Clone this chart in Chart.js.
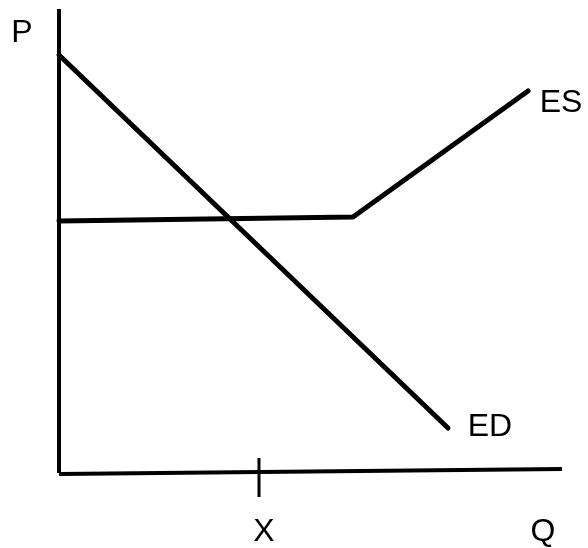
<!DOCTYPE html>
<html><head><meta charset="utf-8">
<script src="https://cdn.jsdelivr.net/npm/chart.js@4"></script>
<style>html,body{margin:0;padding:0;background:#fff}canvas{display:block}</style>
</head><body>
<canvas id="c" width="588" height="548"></canvas>
<script>
// Data (abstract quantity / price units)
const edQ = [0, 389];
const edP = [418, 45];
const esQ = [0, 294, 469];
const esP = [252, 256, 382];
const axisQ = [0, 503];
const axisQP = [-1, 4];
const axisP = [0, 464];
const tickQ = 200;
const tickSpan = [-24, 15];
const curveLabels = ['ES', 'ED'];
const curveLabelQ = [502, 431];
const curveLabelP = [370, 46];
const axisLabels = ['P', 'Q', 'X'];

const toPts = (xs, ys) => xs.map((x, i) => ({x, y: ys[i]}));

const labelPlugin = {
  id: 'labels',
  afterDatasetsDraw(chart) {
    const {ctx, scales: {x, y}} = chart;
    ctx.save();
    ctx.fillStyle = '#000';
    ctx.font = '32px "Liberation Sans", Arial, sans-serif';
    ctx.textBaseline = 'middle';
    ctx.textAlign = 'center';
    curveLabels.forEach((t, i) => {
      ctx.fillText(t, x.getPixelForValue(curveLabelQ[i]), y.getPixelForValue(curveLabelP[i]));
    });
    ctx.fillText(axisLabels[0], x.getPixelForValue(0) - 37, y.getPixelForValue(axisP[1]) + 24);
    ctx.fillText(axisLabels[1], x.getPixelForValue(484), y.getPixelForValue(0) + 59);
    ctx.fillText(axisLabels[2], x.getPixelForValue(tickQ) + 5, y.getPixelForValue(0) + 59);
    ctx.restore();
  }
};

new Chart(document.getElementById('c'), {
  type: 'scatter',
  data: {
    datasets: [
      {data: toPts([0, 0], axisP), borderWidth: 4},
      {data: toPts(axisQ, axisQP), borderWidth: 4},
      {data: toPts([tickQ, tickQ], tickSpan), borderWidth: 3},
      {data: toPts(edQ, edP), borderWidth: 5, borderCapStyle: 'round'},
      {data: toPts(esQ, esP), borderWidth: 5, borderCapStyle: 'round', borderJoinStyle: 'round'}
    ].map(d => Object.assign({showLine: true, borderColor: '#000', pointRadius: 0,
      borderCapStyle: 'butt', borderJoinStyle: 'miter', clip: false, fill: false}, d))
  },
  options: {
    responsive: false,
    animation: false,
    layout: {padding: {left: 59, top: 9, right: 26, bottom: 75}},
    plugins: {legend: {display: false}, tooltip: {enabled: false}},
    scales: {
      x: {type: 'linear', display: false, min: 0, max: 503},
      y: {type: 'linear', display: false, min: 0, max: 464}
    }
  },
  plugins: [labelPlugin]
});
</script>
</body></html>
